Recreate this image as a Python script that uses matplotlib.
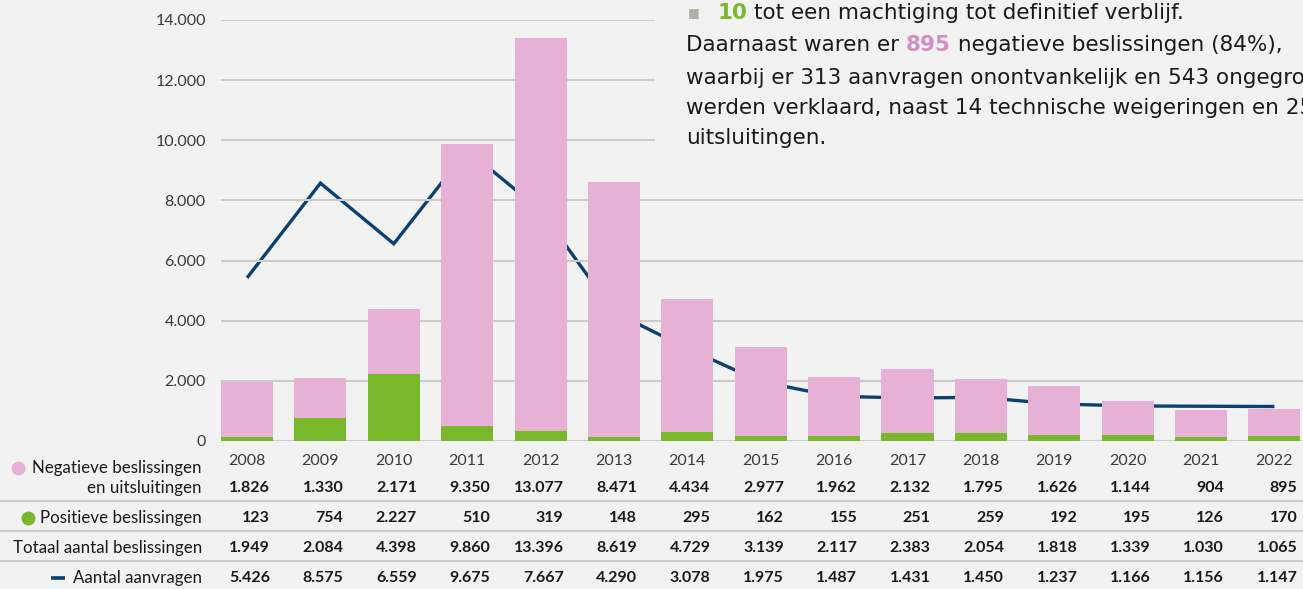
import matplotlib
matplotlib.use("Agg")
import matplotlib.pyplot as plt
import matplotlib.transforms as mtransforms
from matplotlib.patches import Rectangle
from matplotlib.lines import Line2D

jaren = ["2008", "2009", "2010", "2011", "2012", "2013", "2014", "2015",
         "2016", "2017", "2018", "2019", "2020", "2021", "2022"]
negatief = [1826, 1330, 2171, 9350, 13077, 8471, 4434, 2977, 1962, 2132,
            1795, 1626, 1144, 904, 895]
positief = [123, 754, 2227, 510, 319, 148, 295, 162, 155, 251, 259, 192,
            195, 126, 170]
totaal = [1949, 2084, 4398, 9860, 13396, 8619, 4729, 3139, 2117, 2383,
          2054, 1818, 1339, 1030, 1065]
aanvragen = [5426, 8575, 6559, 9675, 7667, 4290, 3078, 1975, 1487, 1431,
             1450, 1237, 1166, 1156, 1147]
yticks = [0, 2000, 4000, 6000, 8000, 10000, 12000, 14000]

PINK = "#e6b1d4"
GREEN = "#78b82a"
BLUE = "#0b4170"
BG = "#f2f2f2"
GRID = "#cbcbcb"
FONT = "Lato"
TOPFONT = "DejaVu Sans"

W, H = 1303, 589


def nl(v):
    return f"{v:,}".replace(",", ".")


def fy(px):
    return 1 - px / H


def fx(px):
    return px / W


fig = plt.figure(figsize=(W / 100, H / 100), dpi=100, facecolor=BG)
ax = fig.add_axes([fx(221), fy(441), fx(W - 221), (441 - 20) / H])
ax.set_facecolor(BG)

x = list(range(len(jaren)))
bw = 0.71
ax.bar(x, positief, width=bw, color=GREEN, zorder=3)
ax.bar(x, negatief, width=bw, bottom=positief, color=PINK, zorder=3)
ax.plot(x, aanvragen, color=BLUE, lw=2.4, zorder=2, solid_capstyle="butt",
        solid_joinstyle="miter")

ax.set_xlim(-bw / 2, 14.39)
ax.set_ylim(0, 14000)
ax.set_yticks(yticks)
ax.set_yticklabels([nl(t) for t in yticks], fontfamily=FONT, fontsize=11.5,
                   color="#3a3a3a")
ax.tick_params(axis="y", length=0, pad=11)
ax.set_xticks([])
ax.grid(axis="y", color=GRID, lw=1.5, zorder=1)
ax.set_axisbelow(False)
for s in ax.spines.values():
    s.set_visible(False)
for gl in ax.get_ygridlines():
    gl.set_zorder(1)

# table below the chart
tr = mtransforms.blended_transform_factory(ax.transData, fig.transFigure)
half = bw / 2
for i, j in enumerate(jaren):
    fig.text(i, fy(461), j, transform=tr, ha="center", va="center",
             fontfamily=FONT, fontsize=11.5, color="#3a3a3a")
rows = [(negatief, 488), (positief, 518), (totaal, 548), (aanvragen, 578)]
for vals, py in rows:
    for i, v in enumerate(vals):
        fig.text(i + half - 0.04, fy(py), nl(v), transform=tr, ha="right",
                 va="center", fontfamily=FONT, fontsize=11.5, fontweight="bold",
                 color="#1a1a1a")

lab = dict(ha="right", va="center", fontfamily=FONT, fontsize=12.2,
           color="#1a1a1a")
fig.text(fx(202), fy(468), "Negatieve beslissingen", **lab)
fig.text(fx(202), fy(488), "en uitsluitingen", **lab)
fig.text(fx(202), fy(518), "Positieve beslissingen", **lab)
fig.text(fx(202), fy(548), "Totaal aantal beslissingen", **lab)
fig.text(fx(202), fy(578), "Aantal aanvragen", **lab)

for py in (501, 531, 561):
    fig.add_artist(Line2D([0, 1], [fy(py), fy(py)], color=GRID, lw=1.5,
                          transform=fig.transFigure))

fig.add_artist(Line2D([fx(51), fx(65)], [fy(578), fy(578)], color=BLUE,
                      lw=2.6, transform=fig.transFigure,
                      solid_capstyle="butt"))
for cx, cy, c in ((18, 468, PINK), (28, 518, GREEN)):
    fig.add_artist(Line2D([fx(cx)], [fy(cy)], marker="o", ms=10, color=c,
                          mec="none", transform=fig.transFigure))

# text block top right (covers the gridlines)
fig.add_artist(Rectangle((fx(655), fy(158)), 1, 158 / H, facecolor=BG,
                         edgecolor="none", transform=fig.transFigure,
                         zorder=5))

fig.canvas.draw()
rend = fig.canvas.get_renderer()


def piece(px, py, s, **kw):
    t = fig.text(px / W, fy(py), s, va="center", ha="left", zorder=6,
                 fontfamily=kw.pop("family", TOPFONT),
                 fontsize=kw.pop("size", 15.5),
                 color=kw.pop("color", "#1a1a1a"), **kw)
    bb = t.get_window_extent(rend)
    return bb.x1


x0 = 686
piece(x0 + 2, 13, "■", size=9, color="#b3afa9")
e = piece(718, 13, "10", color=GREEN, fontweight="bold")
piece(e + 6, 13, "tot een machtiging tot definitief verblijf.")
e = piece(x0, 45, "Daarnaast waren er ")
e = piece(e, 45, "895", color="#d38fc3", fontweight="bold")
piece(e, 45, " negatieve beslissingen (84%),")
piece(x0, 78, "waarbij er 313 aanvragen onontvankelijk en 543 ongegrond")
piece(x0, 108, "werden verklaard, naast 14 technische weigeringen en 25")
piece(x0, 138, "uitsluitingen.")

fig.savefig("out.png", dpi=100, facecolor=BG)
